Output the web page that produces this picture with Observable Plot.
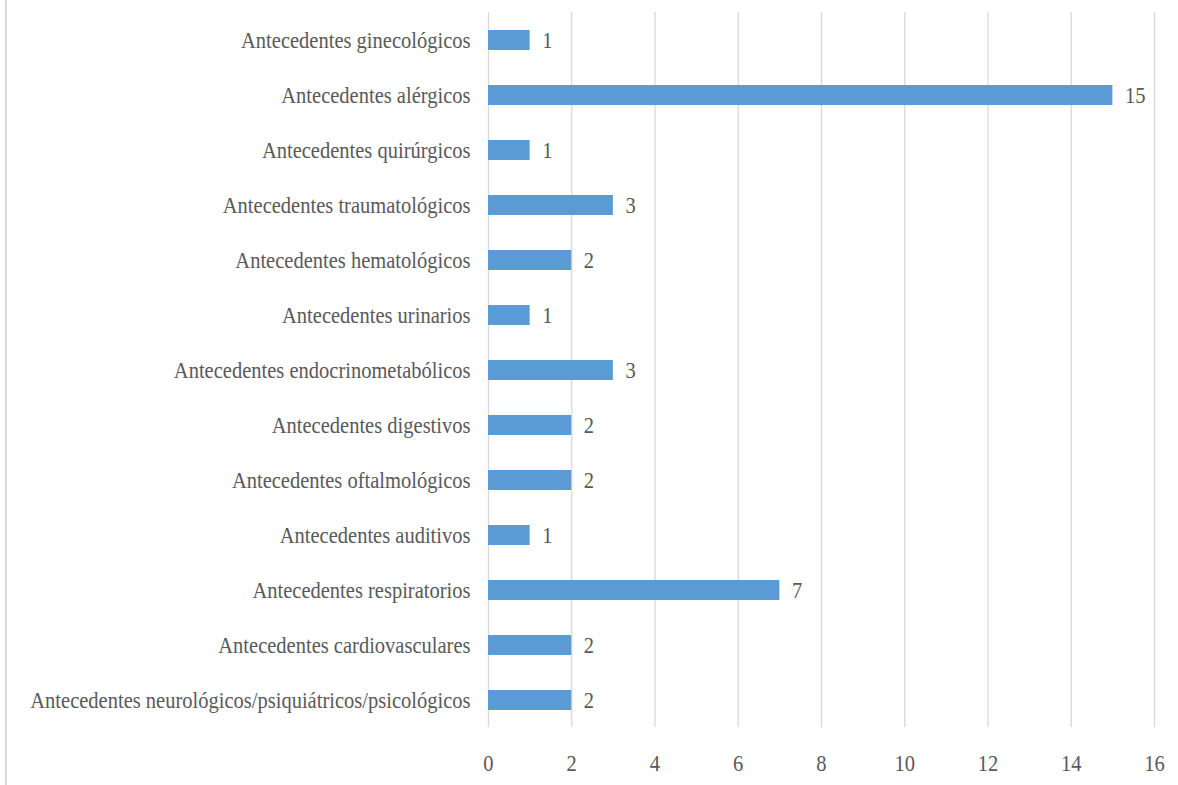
<!DOCTYPE html>
<html>
<head>
<meta charset="utf-8">
<script src="https://cdn.jsdelivr.net/npm/d3@7"></script>
<script src="https://cdn.jsdelivr.net/npm/@observablehq/plot@0.6"></script>
<style>
  html, body { margin: 0; padding: 0; background: #ffffff; }
  #wrap { position: relative; width: 1178px; height: 785px; overflow: hidden; }
  #wrap::before { content: ""; position: absolute; left: 5px; top: 0; width: 2px; height: 785px; background: #d9d9d9; }
</style>
</head>
<body>
<div id="wrap"></div>
<script>
const categories = [
  "Antecedentes ginecológicos",
  "Antecedentes alérgicos",
  "Antecedentes quirúrgicos",
  "Antecedentes traumatológicos",
  "Antecedentes hematológicos",
  "Antecedentes urinarios",
  "Antecedentes endocrinometabólicos",
  "Antecedentes digestivos",
  "Antecedentes oftalmológicos",
  "Antecedentes auditivos",
  "Antecedentes respiratorios",
  "Antecedentes cardiovasculares",
  "Antecedentes neurológicos/psiquiátricos/psicológicos"
];
const values = [1, 15, 1, 3, 2, 1, 3, 2, 2, 1, 7, 2, 2];
const xTicks = [0, 2, 4, 6, 8, 10, 12, 14, 16];

const data = categories.map((c, i) => ({category: c, value: values[i]}));

const fontFamily = "'Liberation Serif', 'Times New Roman', serif";
const textColor = "#595959";
const fs = 24;
const condense = 0.855;

const chart = Plot.plot({
  width: 1178,
  height: 785,
  marginLeft: 488,
  marginRight: 24,
  marginTop: 12,
  marginBottom: 58,
  style: {fontFamily, fontSize: fs + "px", color: textColor, background: "transparent"},
  x: {domain: [0, 16], label: null},
  y: {domain: categories, paddingInner: 0.64, paddingOuter: 0.32, label: null},
  marks: [
    Plot.gridX(xTicks, {stroke: "#d9d9d9", strokeOpacity: 1, strokeWidth: 1.3}),
    Plot.barX(data, {x: "value", y: "category", fill: "#5b9bd5"}),
    Plot.text(data, {x: "value", y: "category", text: d => String(d.value), dx: 12, textAnchor: "start", fill: textColor, fontSize: fs}),
    Plot.axisX(xTicks, {tickSize: 0, tickPadding: 26, fill: textColor, fontSize: fs}),
    Plot.axisY({tickSize: 0, tickPadding: 18, fill: textColor, fontSize: fs})
  ]
});
// Condense glyphs horizontally (the reference uses a narrow serif face)
chart.querySelectorAll("text").forEach(t => {
  const tr = t.getAttribute("transform") || "";
  t.setAttribute("transform", (tr + ` scale(${condense},1)`).trim());
});
document.getElementById("wrap").appendChild(chart);
</script>
</body>
</html>
